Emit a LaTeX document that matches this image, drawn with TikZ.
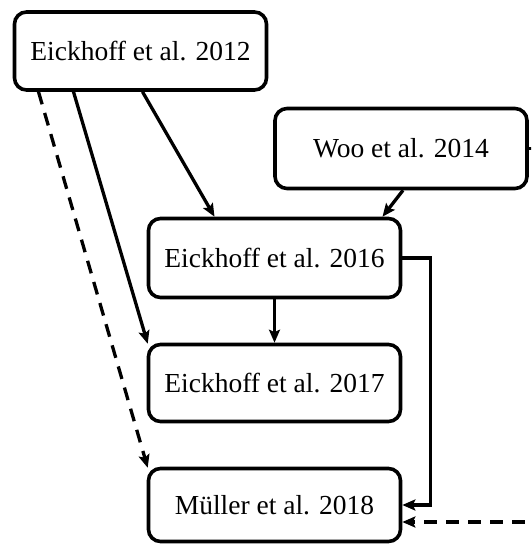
\documentclass[tikz,border=0pt]{standalone}
\usepackage{fontspec}
\setmainfont{Liberation Serif}
\usetikzlibrary{arrows.meta}

\begin{document}
\begin{tikzpicture}[x=1pt,y=-1pt,
    cites/.style={line width=3.3pt,-{Stealth[length=13pt,width=11pt,inset=2.5pt]}},
    later/.style={cites,dash pattern=on 13pt off 9pt}]

    % `paper' is used for every publication box.
    \tikzstyle{paper} = [draw,rounded corners=12pt,line width=3.6pt,
        minimum width=252pt,minimum height=78pt,inner sep=0pt,
        font=\fontsize{27.5}{30}\selectfont]
    %
    \useasboundingbox (0,0) rectangle (531,545);
    \clip (0,0) rectangle (531,545);

    \node[paper] (E12) at (140.5,51) {Eickhoff et al. 2012};
    \node[paper,minimum height=80pt] (W14) at (401,148.5) {Woo et al. 2014};
    \node[paper,minimum height=79pt] (E16) at (274.5,258) {Eickhoff et al. 2016};
    \node[paper,minimum height=77pt] (E17) at (274.5,383) {Eickhoff et al. 2017};
    \node[paper,minimum height=73pt] (M18) at (274.5,505) {M\"uller et al. 2018};
    \coordinate (offR) at (560,522);

    % Solid citations.
    \draw[cites] ([xshift=2pt]E12.south) -- ([xshift=-60pt]E16.north);
    \draw[cites] ([xshift=-67pt]E12.south) -- ([shift={(1pt,-1pt)}]E17.north west);
    \draw[cites] ([xshift=2pt]W14.south) -- ([xshift=108pt]E16.north);
    \draw[cites] (E16.south) -- (E17.north);
    \draw[cites] (E16.east) -- ++(28,0) |- (M18.east);

    % Dashed citations.
    \draw[later] ([xshift=-102pt]E12.south) -- ([shift={(1pt,-1pt)}]M18.north west);
    \draw[later] (W14.east) -- (W14.east -| offR) -- (offR) -- ([yshift=-17pt]M18.east);
    %
\end{tikzpicture}
\end{document}
